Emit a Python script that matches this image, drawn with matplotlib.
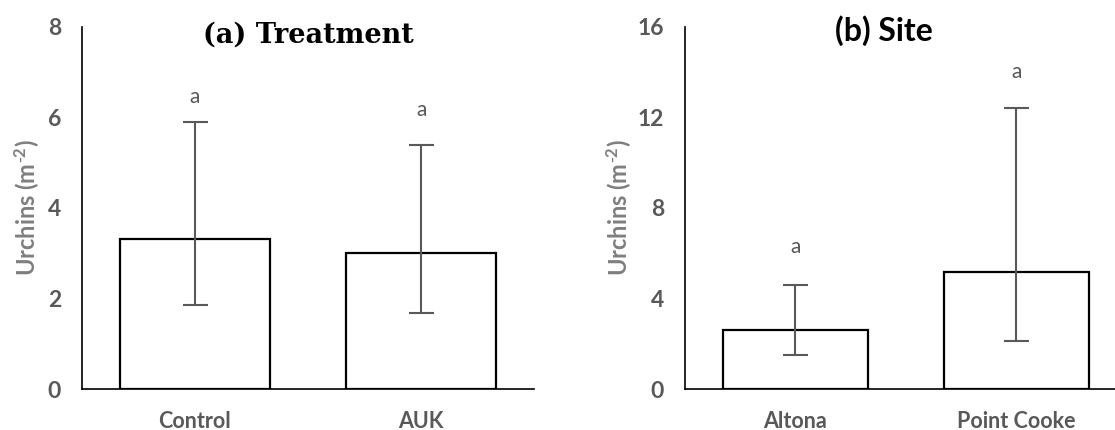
import matplotlib
matplotlib.use("Agg")
import matplotlib.pyplot as plt
import numpy as np

plt.rcParams['mathtext.default'] = 'regular'

# panel (a): treatment
treat_names = ['Control', 'AUK']
treat_mean = [3.32, 3.01]
treat_low = [1.85, 1.68]
treat_high = [5.89, 5.39]
treat_letters = ['a', 'a']
treat_letter_y = [6.45, 6.16]

# panel (b): site
site_names = ['Altona', 'Point Cooke']
site_mean = [2.62, 5.16]
site_low = [1.50, 2.12]
site_high = [4.60, 12.43]
site_letters = ['a', 'a']
site_letter_y = [6.28, 14.0]

GREY = '#595959'
LABEL_GREY = '#7f7f7f'
SANS = 'Lato'

fig = plt.figure(figsize=(11.15, 4.3), dpi=100)
ax1 = fig.add_axes([0.0733, 0.0953, 0.4059, 0.8426])
ax2 = fig.add_axes([0.6143, 0.0953, 0.3964, 0.8426])


def panel(ax, names, mean, low, high, letters, letter_y, ymax, yticks, lbl_x):
    x = np.arange(len(names))
    mean = np.array(mean)
    yerr = [mean - np.array(low), np.array(high) - mean]
    ax.bar(x, mean, width=0.66, color='white', edgecolor='black', linewidth=1.6, zorder=2)
    ax.errorbar(x, mean, yerr=yerr, fmt='none', ecolor=GREY, elinewidth=1.5,
                capsize=9, capthick=1.5, zorder=3)
    for xi, t, yy in zip(x, letters, letter_y):
        ax.text(xi, yy, t, ha='center', va='center', fontsize=15,
                family=SANS, color=GREY)
    ax.set_xlim(-0.5, len(names) - 0.5)
    ax.set_ylim(0, ymax)
    ax.set_yticks(yticks)
    ax.set_xticks(x)
    ax.set_xticklabels(names, fontsize=15.5, family=SANS, fontweight='bold', color=GREY)
    for t in ax.get_yticklabels():
        t.set_fontsize(16.5)
        t.set_family(SANS)
        t.set_fontweight('bold')
        t.set_color(GREY)
    ax.tick_params(axis='both', length=0)
    ax.tick_params(axis='y', pad=15)
    ax.tick_params(axis='x', pad=16)
    for s in ['top', 'right']:
        ax.spines[s].set_visible(False)
    for s in ['left', 'bottom']:
        ax.spines[s].set_linewidth(1.2)
        ax.spines[s].set_color('black')
    ax.set_ylabel(r'Urchins (m$^{\text{-}2}$)', fontsize=17, family=SANS,
                  fontweight='bold', color=LABEL_GREY)
    ax.yaxis.set_label_coords(lbl_x, 0.5)


panel(ax1, treat_names, treat_mean, treat_low, treat_high, treat_letters,
      treat_letter_y, 8, [0, 2, 4, 6, 8], -0.088)
panel(ax2, site_names, site_mean, site_low, site_high, site_letters,
      site_letter_y, 16, [0, 4, 8, 12, 16], -0.115)

ax1.text(0.5, 0.955, '(a) Treatment', transform=ax1.transAxes, ha='center',
         va='baseline', fontsize=19.5, family='DejaVu Serif', fontweight='bold')
ax2.text(0.45, 0.96, '(b) Site', transform=ax2.transAxes, ha='center',
         va='baseline', fontsize=23, family=SANS, fontweight='bold')

fig.savefig('out.png', dpi=100)
